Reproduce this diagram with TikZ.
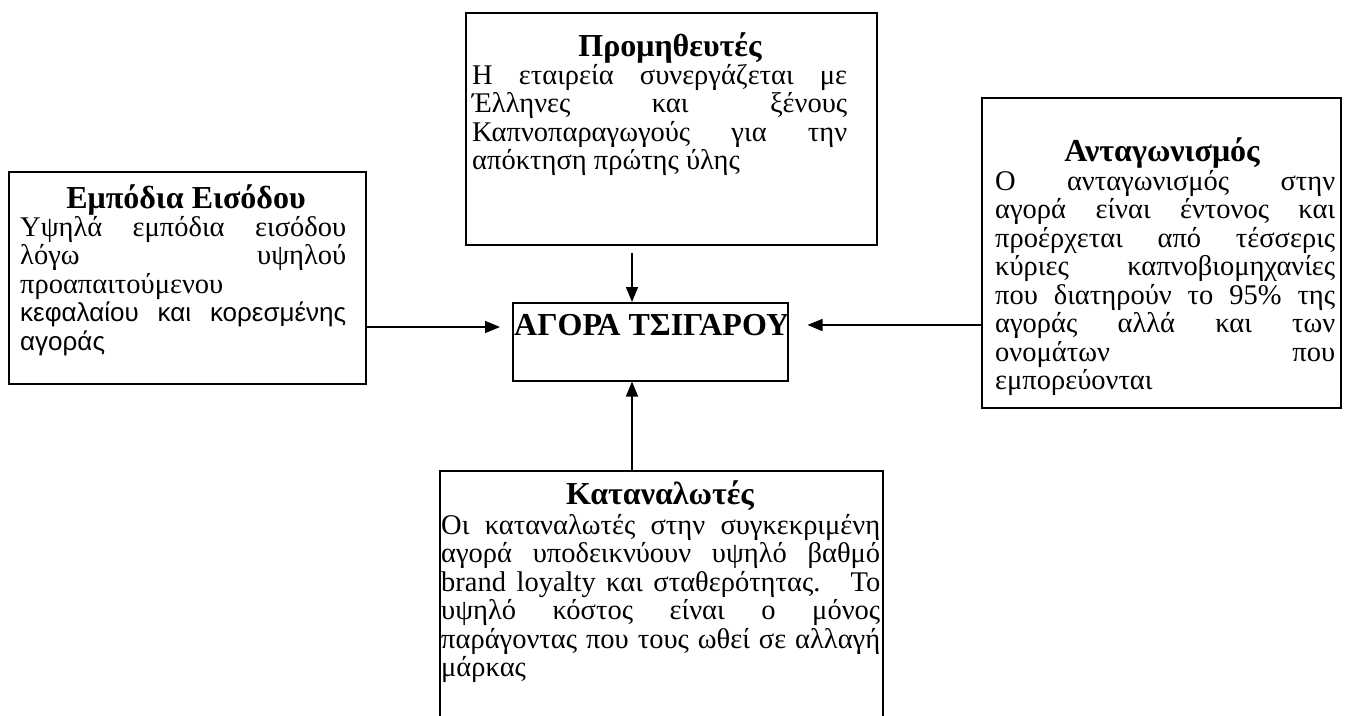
\documentclass[tikz,border=0pt]{standalone}
\usepackage{fontspec}
\setmainfont{Liberation Serif}
\newfontfamily\arialfont{Liberation Sans}
\usetikzlibrary{positioning,arrows.meta}
\tolerance=10000
\hbadness=10000
\hyphenpenalty=10000
\exhyphenpenalty=10000

\tikzset{
	blockbox/.style={draw, line width=1.5pt, rectangle, inner sep=0pt, anchor=north west},
	titletext/.style={inner sep=0pt, anchor=base, font=\fontsize{32}{32}\selectfont\bfseries},
	bodytext/.style={inner sep=0pt, anchor=base west, align=justify, font=\fontsize{28.5}{28.5}\selectfont},
	flow/.style={line width=1.5pt, -{Triangle[length=15pt,width=12pt]}}
}

\begin{document}
\begin{tikzpicture}[x=1pt,y=-1pt]

\def\ARROWX{632}
	\clip (0,0) rectangle (1346,715);
	\fill[white] (0,0) rectangle (1346,715);

	% the five boxes
	\node[blockbox, minimum width=411pt, minimum height=232pt] (suppl) at (465,12) {};
	\node[blockbox, minimum width=357pt, minimum height=212pt] (entry) at (8,171) {};
	\node[blockbox, minimum width=275pt, minimum height=78pt] (market) at (512,302) {};
	\node[blockbox, minimum width=359pt, minimum height=310pt] (rival) at (981,97) {};
	\node[blockbox, minimum width=443pt, minimum height=300pt] (cons) at (439,470) {};

	% titles
	\node[titletext] (supplT) at (670,56) {Προμηθευτές};
	\node[titletext] (entryT) at (186,208) {Εμπόδια Εισόδου};
	\node[titletext] (rivalT) at (1162,161) {Ανταγωνισμός};
	\node[titletext] (consT) at (660,504) {Καταναλωτές};
	\node[titletext, anchor=base west, font=\fontsize{32}{32}\selectfont\bfseries] (marketT) at (514,335) {ΑΓΟΡΑ ΤΣΙΓΑΡΟΥ};

	% texts
	\node[bodytext, text width=375pt] (supplB) at (472,84) {Η εταιρεία συνεργάζεται με\linebreak Έλληνες και ξένους\linebreak Καπνοπαραγωγούς για την\linebreak απόκτηση πρώτης ύλης};
	\node[bodytext, text width=326pt] (entryB) at (20,236) {Υψηλά εμπόδια εισόδου\linebreak λόγω υψηλού\linebreak προαπαιτούμενου\newline {\arialfont\fontsize{26}{28.5}\selectfont κεφαλαίου και κορεσμένης\linebreak αγοράς}};
	\node[bodytext, text width=340pt] (rivalB) at (995,190) {Ο ανταγωνισμός στην\linebreak αγορά είναι έντονος και\linebreak προέρχεται από τέσσερις\linebreak κύριες καπνοβιομηχανίες\linebreak που διατηρούν το 95\% της\linebreak αγοράς αλλά και των\linebreak ονομάτων που\linebreak εμπορεύονται};
	\node[bodytext, text width=439pt] (consB) at (441,534) {Οι καταναλωτές στην συγκεκριμένη\linebreak αγορά υποδεικνύουν υψηλό βαθμό\linebreak brand loyalty και σταθερότητας.~ Το\linebreak υψηλό κόστος είναι ο μόνος\linebreak παράγοντας που τους ωθεί σε αλλαγή\linebreak μάρκας};

	% arrows
	\coordinate (topin) at (\ARROWX,253);
	\coordinate (lefty) at (0,327);
	\coordinate (righty) at (0,325);
	\draw[flow] (topin) -- (topin |- market.north);
	\draw[flow] (cons.north -| topin) -- (topin |- market.south);
	\draw[flow] (entry.east |- lefty) -- ([xshift=-12pt]market.west |- lefty);
	\draw[flow] (rival.west |- righty) -- ([xshift=19pt]market.east |- righty);

\end{tikzpicture}
\end{document}
